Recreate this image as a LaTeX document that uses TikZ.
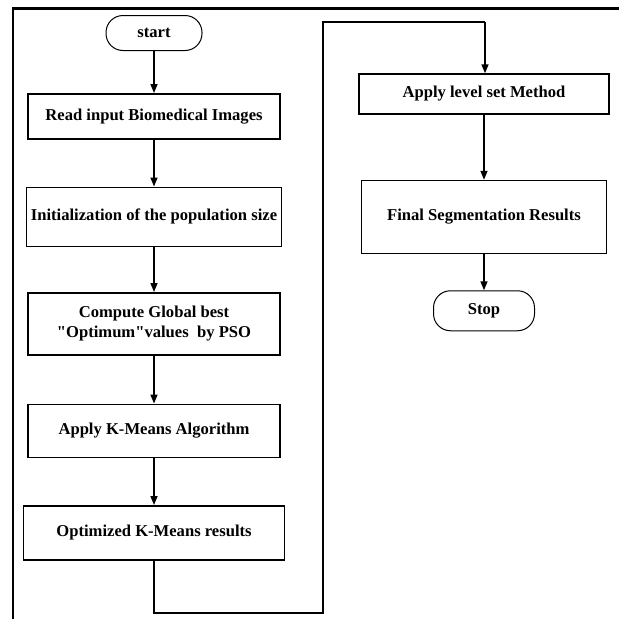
\documentclass[tikz,border=0pt]{standalone}
\usepackage{fontspec}
\setmainfont{Liberation Serif}
\usepackage{tikz}
\usetikzlibrary{positioning}
\usetikzlibrary{arrows.meta}
\tikzset{>={Triangle[width=7pt,length=9pt]}}
\tikzset{
  process/.style ={ font=\fontsize{16.6}{20}\selectfont\bfseries, rectangle, draw=black, fill=white,
                    line width=1.5pt, align=center, inner sep=2pt },
  terminal/.style={ font=\fontsize{16.6}{20}\selectfont\bfseries, rectangle, rounded corners=17pt,
                    draw=black, fill=white, line width=1pt, inner sep=2pt },
  flow/.style={->, draw=black, line width=1.5pt},
  link/.style={draw=black, line width=1.5pt},
  frame/.style={draw=black, line width=2.4pt}
}

\begin{document}
\begin{tikzpicture}[x=1pt,y=-1pt]
\useasboundingbox (0,0) rectangle (619,619);

\draw[frame] (12,8.5) -- (619,8.5);
\draw[frame] (13,8) -- (13,619);

\node[terminal,minimum width=96pt,minimum height=35pt] (start) at (154,33) {start};
\node[process, minimum width=252pt,minimum height=45pt] (read) [below=42pt of start] {Read input Biomedical Images};
\node[process, minimum width=255pt,minimum height=59pt] (init) [below=47pt of read] {Initialization of the population size};
\node[process, minimum width=252pt,minimum height=62pt] (pso) [below=45pt of init] {Compute Global best\\\textquotedbl Optimum\textquotedbl values\ \ by PSO};
\node[process, minimum width=252pt,minimum height=53pt] (kmeans) [below=48pt of pso] {Apply K-Means Algorithm};
\node[process, minimum width=261pt,minimum height=54pt] (optkm) [below=47pt of kmeans] {Optimized K-Means results};

\node[process, minimum width=250pt,minimum height=40pt] (level) at (484,94) {Apply level set Method};
\node[process, minimum width=245pt,minimum height=73pt] (final) [below=65pt of level] {Final Segmentation Results};
\node[terminal,minimum width=101pt,minimum height=40pt] (stop) [below=36pt of final] {Stop};

\coordinate (c1) at (154,613);
\coordinate (c2) at (323,613);
\coordinate (c3) at (323,22);
\coordinate (c4) at (485,22);

\draw[flow] (start) -- (read);
\draw[flow] (read) -- (init);
\draw[flow] (init) -- (pso);
\draw[flow] (pso) -- (kmeans);
\draw[flow] (kmeans) -- (optkm);

\draw[link] (optkm.south) -- (c1) -- (c2) -- (c3) -- (c4);
\draw[flow] (c4) -- (c4 |- level.north);

\draw[flow] (level) -- (level |- final.north);
\draw[flow] (final.south -| stop) -- (stop);

\end{tikzpicture}
\end{document}
